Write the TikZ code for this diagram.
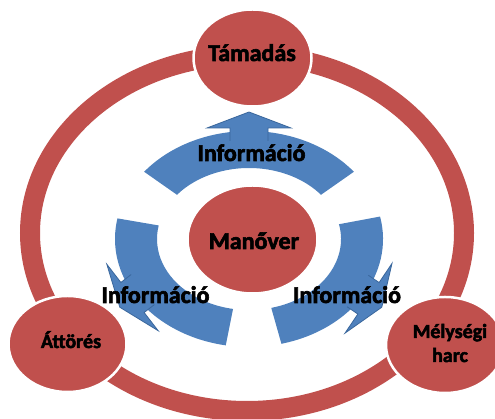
\documentclass[tikz,border=0pt]{standalone}
\usepackage{fontspec}
\setmainfont{Carlito}[BoldFeatures={FakeBold=2.5}]
\usepackage{tikz}
\usetikzlibrary{shapes.geometric}

\definecolor{ringred}{HTML}{C0504D}
\definecolor{bandblue}{HTML}{4F81BD}
\definecolor{arrowblue}{HTML}{3A679C}

\tikzset{
	stage/.style={ellipse, fill=ringred, draw=white, line width=2.5pt, inner sep=0pt},
	biglbl/.style={font=\bfseries\fontsize{24}{28}\selectfont, anchor=base, inner sep=0pt},
	smalllbl/.style={font=\bfseries\fontsize{20}{24}\selectfont, anchor=base, inner sep=0pt, align=center},
	band/.style={fill=bandblue},
	infoarrow/.style={fill=bandblue, draw=arrowblue, line width=0.8pt, line join=miter},
}

\begin{document}
\begin{tikzpicture}[x=1pt,y=1pt]
	\useasboundingbox (0,0) rectangle (495,419);
	% the outer ring
	\draw[ringred, line width=20pt] (247,186) ellipse [x radius=217pt, y radius=178pt];
	% stages on the ring
	\node[stage, minimum width=118pt, minimum height=97pt] (tamadas) at (252.5,361) {};
	\node[stage, minimum width=118pt, minimum height=96pt] (attores) at (67.5,75) {};
	\node[stage, minimum width=118pt, minimum height=96pt] (melysegi) at (445,74) {};
	% the blue band, three pieces
	\coordinate (bandc) at (249,180);
	\foreach \a/\b in {38.5/141.5, 169/260, 284/372} {
		\fill[band] ([shift={(\a:134pt and 108pt)}]bandc)
			arc[start angle=\a, end angle=\b, x radius=134pt, y radius=108pt]
			-- ([shift={(\b:92pt and 71pt)}]bandc)
			arc[start angle=\b, end angle=\a, x radius=92pt, y radius=71pt] -- cycle;
	}
	% block arrows
	\foreach \p/\r in {{249,291}/90, {132.5,121.5}/217.7, {368.5,120.7}/-34} {
		\begin{scope}[shift={(\p)}, rotate=\r]
			\filldraw[infoarrow] (-13,19) -- (0,19) -- (0,42) -- (16,0) -- (0,-42) -- (0,-19) -- (-13,-19);
		\end{scope}
	}
	% centre
	\node[stage, minimum width=130pt, minimum height=108pt] (manover) at (252.5,179.5) {};
	% texts
	\node[biglbl] (tamadasT) at ([xshift=-0.5pt, yshift=-3pt]tamadas.center) {Támadás};
	\node[biglbl] (manoverT) at ([xshift=1.5pt, yshift=-9.5pt]manover.center) {Manőver};
	\node[smalllbl] (attoresT) at ([xshift=3.5pt, yshift=-4pt]attores.center) {Áttörés};
	\node[smalllbl] (melysegiT) at ([xshift=5pt, yshift=-17pt]melysegi.center) {Mélységi\\harc};
	\node[biglbl] (infotop) at (251.5,258) {Információ};
	\node[biglbl] (infoleft) at (155.5,116) {Információ};
	\node[biglbl] (inforight) at (347,116) {Információ};
\end{tikzpicture}
\end{document}
